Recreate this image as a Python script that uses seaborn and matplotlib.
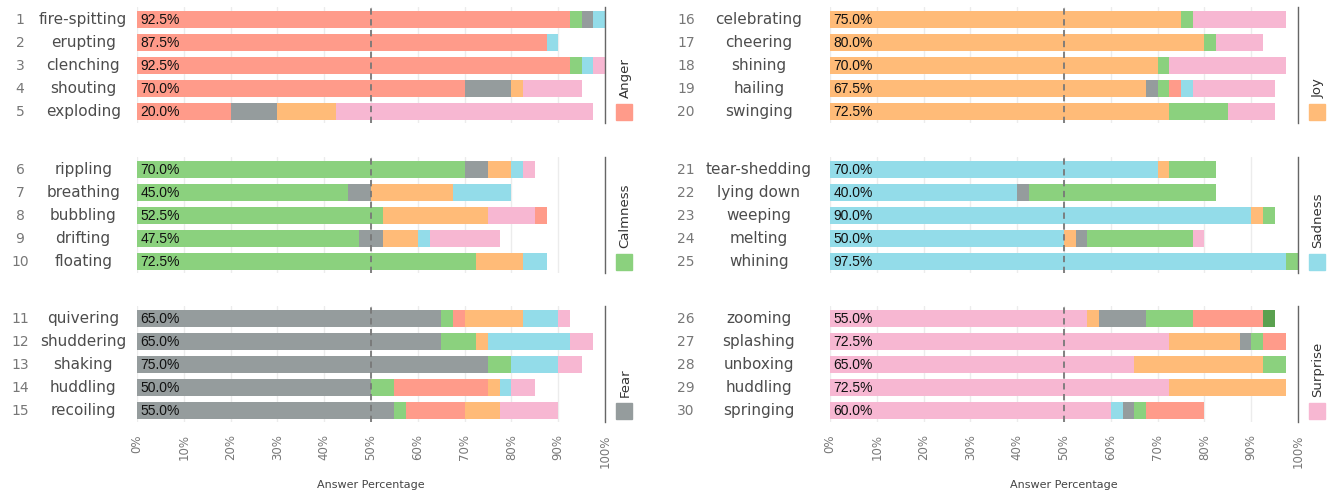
import pandas as pd
import seaborn as sns
import matplotlib.pyplot as plt
from matplotlib.patches import Rectangle

# Words, grouped by intended emotion (5 per group)
words = ["fire-spitting", "erupting", "clenching", "shouting", "exploding",
         "rippling", "breathing", "bubbling", "drifting", "floating",
         "quivering", "shuddering", "shaking", "huddling", "recoiling",
         "celebrating", "cheering", "shining", "hailing", "swinging",
         "tear-shedding", "lying down", "weeping", "melting", "whining",
         "zooming", "splashing", "unboxing", "huddling", "springing"]
groups = ["Anger", "Calmness", "Fear", "Joy", "Sadness", "Surprise"]
colors = {"Anger": "#ff9b8a", "Calmness": "#8bd17e", "Fear": "#959c9d",
          "Joy": "#ffbb78", "Sadness": "#93dce9", "Surprise": "#f7b7d2",
          "Other": "#5aa14f"}

# answers for each word, in stacking order (A/C/F/J/S/U = emotions, O = other)
seg_cats = ["ACFS", "AS", "ACSU", "AFJU", "AFJU",
            "CFJSU", "CFJS", "CJUA", "CFJSU", "CJS",
            "FCAJSU", "FCJSU", "FCSU", "FCAJSU", "FCAJU",
            "JCU", "JCU", "JCU", "JFCASU", "JCU",
            "SJC", "SFC", "SJC", "SJFCU", "SC",
            "UJFCAO", "UJFCA", "UJC", "UJ", "USFCA"]
seg_vals = [[92.5, 2.5, 2.5, 2.5], [87.5, 2.5], [92.5, 2.5, 2.5, 2.5],
            [70, 10, 2.5, 12.5], [20, 10, 12.5, 55],
            [70, 5, 5, 2.5, 2.5], [45, 5, 17.5, 12.5], [52.5, 22.5, 10, 2.5],
            [47.5, 5, 7.5, 2.5, 15], [72.5, 10, 5],
            [65, 2.5, 2.5, 12.5, 7.5, 2.5], [65, 7.5, 2.5, 17.5, 5], [75, 5, 10, 5],
            [50, 5, 20, 2.5, 2.5, 5], [55, 2.5, 12.5, 7.5, 12.5],
            [75, 2.5, 20], [80, 2.5, 10], [70, 2.5, 25],
            [67.5, 2.5, 2.5, 2.5, 2.5, 17.5], [72.5, 12.5, 10],
            [70, 2.5, 10], [40, 2.5, 40], [90, 2.5, 2.5],
            [50, 2.5, 2.5, 22.5, 2.5], [97.5, 2.5],
            [55, 2.5, 10, 10, 15, 2.5], [72.5, 15, 2.5, 2.5, 5], [65, 27.5, 5],
            [72.5, 25], [60, 2.5, 2.5, 2.5, 12.5]]
code = {"A": "Anger", "C": "Calmness", "F": "Fear", "J": "Joy",
        "S": "Sadness", "U": "Surprise", "O": "Other"}
tick_labels = [f"{t}%" for t in range(0, 101, 10)]

recs = []
for i, (cats, vals) in enumerate(zip(seg_cats, seg_vals)):
    end = 0
    for lvl, (c, v) in enumerate(zip(cats, vals)):
        end += v
        recs.append(dict(rid=str(i + 1), group=groups[i // 5], level=lvl,
                         cat=code[c], val=v, end=end))
df = pd.DataFrame(recs)

sns.set_theme(style="white")
plt.rcParams["font.family"] = ["DejaVu Sans"]

W, H = 1330, 495
fig = plt.figure(figsize=(W / 100, H / 100), dpi=100)
col_x = [137, 830]
row_top = [7, 157, 306]
num_x = [-25, -30.8]
word_x = [-11.5, -15.2]

for gi, g in enumerate(groups):
    col, r = divmod(gi, 3)
    ax = fig.add_axes([col_x[col] / W, (H - row_top[r] - 116) / H, 468 / W, 116 / H])
    sub = df[df.group == g]
    ids = [str(k + 1) for k in range(gi * 5, gi * 5 + 5)]
    # longest cumulative bars first, shorter ones painted on top
    for lvl in sorted(sub.level.unique(), reverse=True):
        d = sub[sub.level == lvl]
        sns.barplot(data=d, x="end", y="rid", hue="cat", palette=colors,
                    order=ids, dodge=False, width=0.74, saturation=1,
                    linewidth=0, errorbar=None, legend=False, orient="h", ax=ax)

    ax.set_xlim(0, 100)
    ax.set_ylim(4.48, -0.56)
    ax.set_xticks(range(0, 101, 10))
    ax.grid(axis="x", color="#ececec", lw=1)
    ax.set_axisbelow(True)
    ax.axvline(50, color="#787878", ls=(0, (3.5, 2.5)), lw=1.3, zorder=5)
    for s in ["top", "left", "bottom"]:
        ax.spines[s].set_visible(False)
    ax.spines["right"].set_color("#666666")
    ax.spines["right"].set_linewidth(1)
    ax.set_yticks([])
    ax.set_ylabel("")
    ax.tick_params(axis="x", length=0)

    if r == 2:
        ax.set_xticklabels(tick_labels, rotation=90, fontsize=8.5, color="#777777")
        ax.tick_params(axis="x", pad=9)
        ax.set_xlabel("Answer Percentage", fontsize=8, color="#444444", labelpad=9)
    else:
        ax.set_xticklabels([])
        ax.set_xlabel("")

    for j, k in enumerate(range(gi * 5, gi * 5 + 5)):
        ax.text(num_x[col], j, str(k + 1), ha="center", va="center",
                fontsize=10, color="#777777", clip_on=False)
        ax.text(word_x[col], j, words[k], ha="center", va="center",
                fontsize=11, color="#4d4d4d", clip_on=False)
        ax.text(0.7, j, f"{seg_vals[k][0]:.1f}%", ha="left", va="center",
                fontsize=10, color="#111111", family="Liberation Sans", zorder=6)

    ax.text(1.0427, 0.2155, g, transform=ax.transAxes, rotation=90,
            ha="center", va="bottom", fontsize=9.5, color="#333333")
    ax.add_patch(Rectangle((1.0235, 0.026), 0.0342, 0.138, transform=ax.transAxes,
                           color=colors[g], clip_on=False))

fig.savefig("out.png", dpi=100)
